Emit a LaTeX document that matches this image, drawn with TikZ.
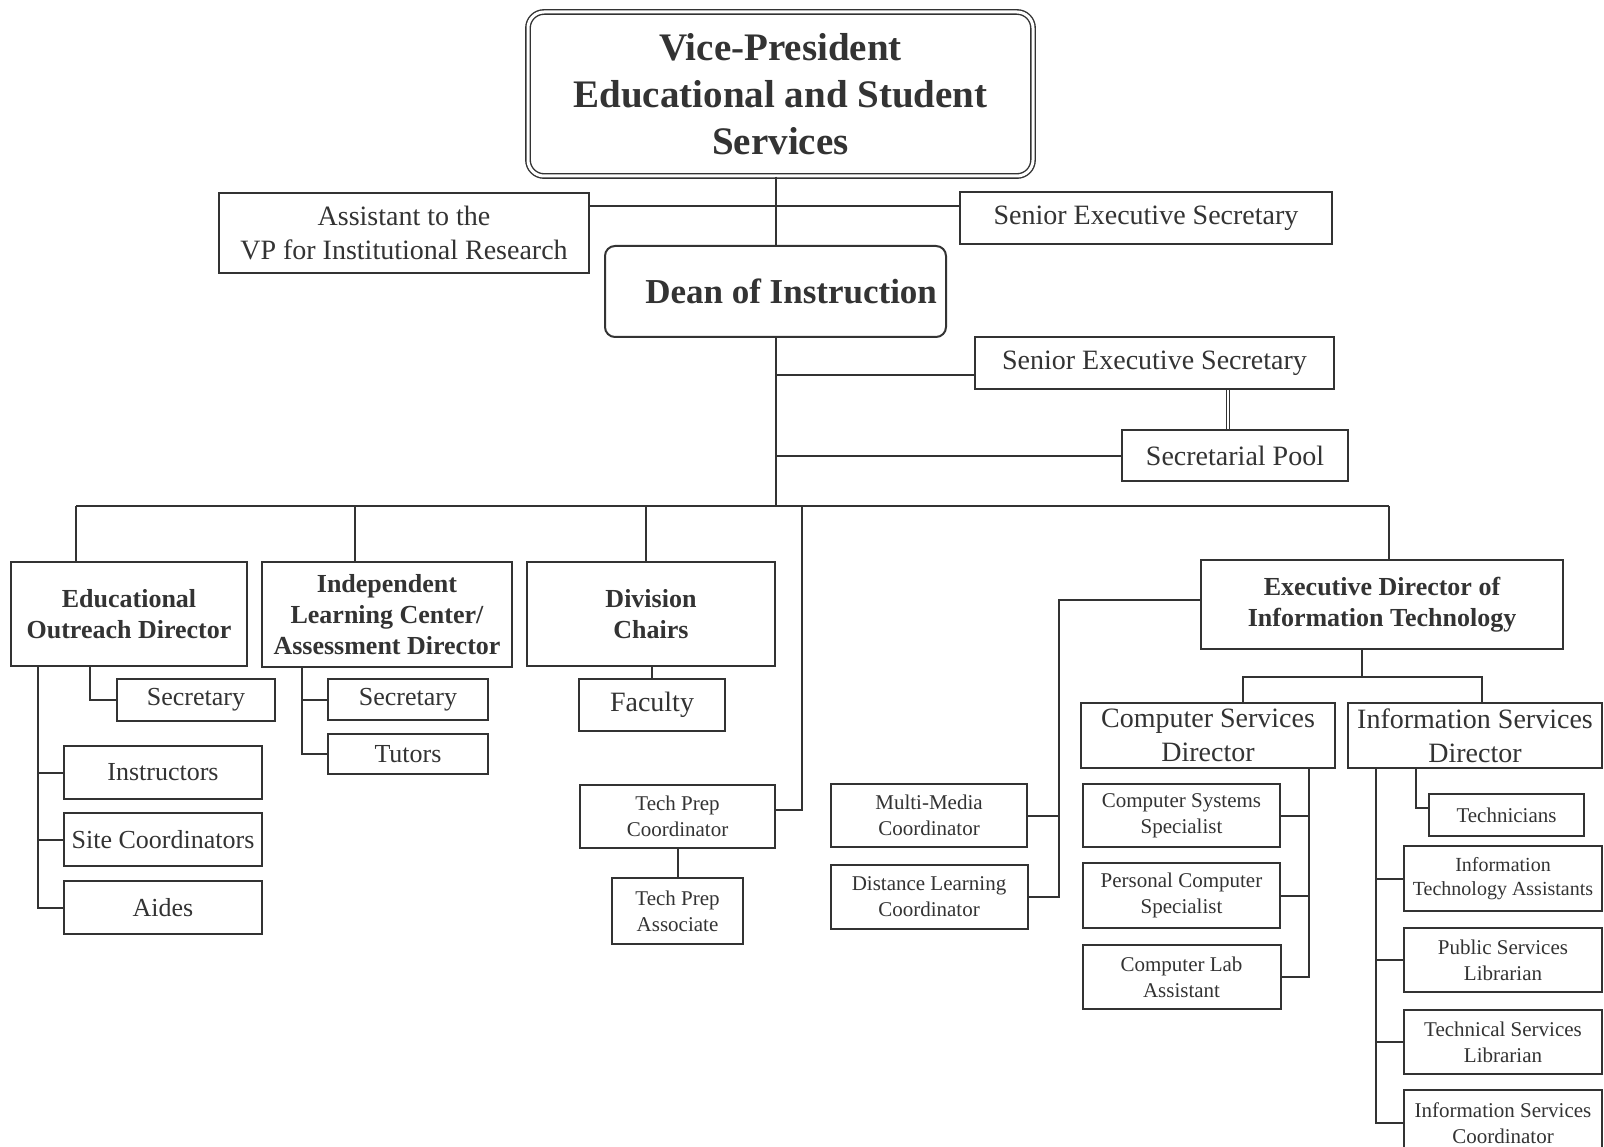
\documentclass[tikz,border=0pt]{standalone}
\usepackage{fontspec}
\setmainfont{Liberation Serif}
\usetikzlibrary{positioning}
\definecolor{ink}{HTML}{333333}
\tikzset{
  orgbox/.style={draw=ink, line width=2pt, fill=white, align=center, inner sep=2pt, text=ink},
  boxsize/.style 2 args={minimum width=#1pt, minimum height=#2pt},
  topbox/.style={orgbox, rounded corners=16pt, double=white, double distance=3pt, line width=1.4pt,
    font=\bfseries\fontsize{39}{47}\selectfont},
  deanbox/.style={orgbox, rounded corners=10pt, inner xsep=9pt, text width=323pt, align=flush right,
    font=\bfseries\fontsize{35}{42}\selectfont},
  headbox/.style={orgbox, font=\bfseries\fontsize{26}{31}\selectfont},
  staffbox/.style={orgbox, font=\fontsize{28}{34}\selectfont},
  midbox/.style={orgbox, font=\fontsize{26}{31}\selectfont},
  smallbox/.style={orgbox, font=\fontsize{21}{26}\selectfont},
  link/.style={draw=ink, line width=2pt},
}

\begin{document}
\begin{tikzpicture}[x=1pt, y=-1pt]
\useasboundingbox (0,0) rectangle (1604,1147);

% Vice-President
\node[topbox, boxsize={505}{164}] (vp) at (780.5,94) {Vice-President\\Educational and Student\\Services};
\node[staffbox, boxsize={370}{80}] (asst) at (404,233) {Assistant to the\\VP for Institutional Research};
\node[staffbox, boxsize={372}{52}] (vpsec) at (1146,218) {Senior Executive Secretary};
\node[deanbox, boxsize={341}{91}] (dean) at (775.5,291.5) {Dean of Instruction};
\coordinate (vpj) at (774,206);
\draw[link] (dean.north |- vp.south) -- (dean.north);
\draw[link] (asst.east |- vpj) -- (vpsec.west |- vpj);

% Dean staff
\node[staffbox, boxsize={359}{52}] (deansec) at (1154.5,363) {Senior Executive Secretary};
\node[staffbox, boxsize={226}{51}] (pool) at (1235,455.5) {Secretarial Pool};
\coordinate (dj) at (775.5,375);
\draw[link] (dj) -- (deansec.west |- dj);
\draw[link] (pool.west) -- (pool.west -| dean.south);
\draw[link, double=white, double distance=2pt, line width=1.3pt]
  ([xshift=-7pt]pool.north) -- ([xshift=-7pt]pool.north |- deansec.south);

% Bus
\coordinate (busL) at (76,506);
\coordinate (busB) at (355,506);
\coordinate (busC) at (646,506);
\coordinate (busD) at (802,506);
\coordinate (busR) at (1389,506);
\draw[link] (dean.south) -- (dean.south |- busL);
\draw[link] (busL) -- (busR);

% Educational Outreach
\node[headbox, boxsize={236}{104}] (eod) at (129,614) {Educational\\Outreach Director};
\node[midbox, boxsize={158}{42}] (eodsec) at (196,700) {Secretary};
\node[midbox, boxsize={198}{53}] (instr) at (163,772.5) {Instructors};
\node[midbox, boxsize={198}{53}, below=12pt of instr] (site) {Site Coordinators};
\node[midbox, boxsize={198}{53}, below=13pt of site] (aides) {Aides};
\coordinate (eodS) at ([xshift=80pt]eod.south west);
\coordinate (eodL) at ([xshift=28pt]eod.south west);
\draw[link] (busL) -- (busL |- eod.north);
\draw[link] (eodS) |- (eodsec.west);
\draw[link] (eodL) |- (aides.west);
\draw[link] (instr.west) -- (instr.west -| eodL);
\draw[link] (site.west) -- (site.west -| eodL);

% Independent Learning Center
\node[headbox, boxsize={250}{105}] (ilc) at (387,614.5) {Independent\\Learning Center/\\Assessment Director};
\node[midbox, boxsize={160}{41}] (ilcsec) at (408,699.5) {Secretary};
\node[midbox, boxsize={160}{40}, below=12pt of ilcsec] (tutors) {Tutors};
\coordinate (ilcL) at ([xshift=41pt]ilc.south west);
\draw[link] (busB) -- (busB |- ilc.north);
\draw[link] (ilcL) |- (tutors.west);
\draw[link] (ilcsec.west) -- (ilcsec.west -| ilcL);

% Division Chairs
\node[headbox, boxsize={248}{104}] (div) at (651,614) {Division\\Chairs};
\node[staffbox, boxsize={146}{52}] (faculty) at (652,705) {Faculty};
\node[smallbox, boxsize={195}{63}] (tpc) at (677.5,816.5) {Tech Prep\\Coordinator};
\node[smallbox, boxsize={131}{66}, below=28pt of tpc] (tpa) {Tech Prep\\Associate};
\draw[link] (busC) -- (busC |- div.north);
\draw[link] (faculty.north) -- (faculty.north |- div.south);
\draw[link] (busD) |- ([yshift=7pt]tpc.east);
\draw[link] (tpa.north) -- (tpa.north |- tpc.south);

% Information Technology
\node[headbox, boxsize={362}{89}] (edit) at (1382,604.5) {Executive Director of\\Information Technology};
\node[smallbox, boxsize={196}{63}] (mmc) at (929,815.5) {Multi-Media\\Coordinator};
\node[smallbox, boxsize={197}{64}, below=16pt of mmc] (dlc) {Distance Learning\\Coordinator};
\coordinate (itL) at ([xshift=30pt]dlc.east);
\draw[link] (busR) -- (busR |- edit.north);
\draw[link] ([yshift=5pt]edit.west) -| (itL) -- (dlc.east);
\draw[link] (mmc.east) -- (mmc.east -| itL);

\node[staffbox, boxsize={254}{65}] (csd) at (1208,735.5) {Computer Services\\Director};
\node[staffbox, boxsize={254}{65}] (isd) at (1475,735.5) {Information Services\\Director};
\coordinate (itJ) at ([xshift=-20pt, yshift=-27pt]edit.south);
\draw[link] (itJ) -- (itJ |- edit.south);
\draw[link] ([xshift=35pt]csd.north) |- (itJ) -| ([xshift=7pt]isd.north);

% Computer Services
\node[smallbox, boxsize={197}{63}] (css) at (1181.5,815.5) {Computer Systems\\Specialist};
\node[smallbox, boxsize={197}{65}, below=14pt of css] (pcs) {Personal Computer\\Specialist};
\node[smallbox, boxsize={198}{64}, below=15pt of pcs] (cla) {Computer Lab\\Assistant};
\coordinate (csL) at ([xshift=27pt]cla.east);
\draw[link] (csL |- csd.south) |- (cla.east);
\draw[link] (css.east) -- (css.east -| csL);
\draw[link] (pcs.east) -- (pcs.east -| csL);

% Information Services
\node[smallbox, boxsize={155}{42}] (tech) at (1506.5,815) {Technicians};
\node[smallbox, boxsize={198}{65}, font=\fontsize{20}{24}\selectfont] (ita) at (1503,878.5) {Information\\Technology Assistants};
\node[smallbox, boxsize={198}{64}, below=15pt of ita] (psl) {Public Services\\Librarian};
\node[smallbox, boxsize={198}{64}, below=16pt of psl] (tsl) {Technical Services\\Librarian};
\node[smallbox, boxsize={198}{66}, below=14pt of tsl] (isc) {Information Services\\Coordinator};
\coordinate (tcL) at ([xshift=69pt]isd.south west);
\coordinate (isL) at ([xshift=-27pt]isc.west);
\draw[link] (tcL) |- ([yshift=7pt]tech.west);
\draw[link] (isL |- isd.south) |- (isc.west);
\draw[link] (ita.west) -- (ita.west -| isL);
\draw[link] (psl.west) -- (psl.west -| isL);
\draw[link] (tsl.west) -- (tsl.west -| isL);

\end{tikzpicture}
\end{document}
